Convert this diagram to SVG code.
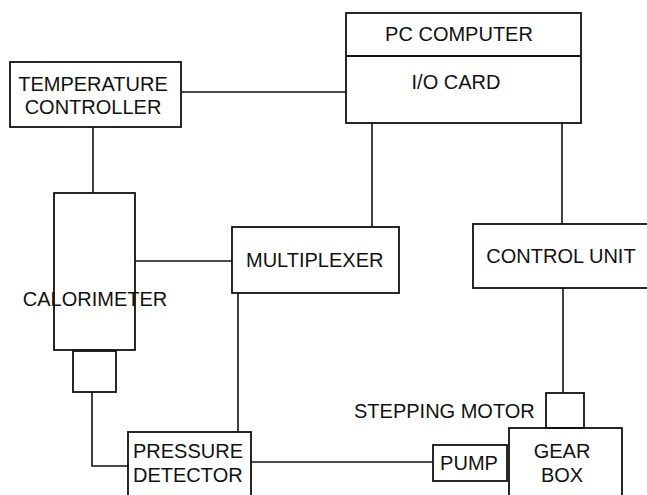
<svg xmlns="http://www.w3.org/2000/svg" width="647" height="495" viewBox="0 0 647 495">
<style>
.b{fill:none;stroke:#111;stroke-width:1.8}
.c{fill:none;stroke:#111;stroke-width:1.6}
text{font-family:"Liberation Sans",Arial,sans-serif;font-size:20px;fill:#111}
.m{text-anchor:middle}
</style>
<rect width="647" height="495" fill="#fff"/>
<g id="connectors">
<path class="c" d="M181 92H346"/>
<path class="c" d="M93 127V193"/>
<path class="c" d="M372 123V227"/>
<path class="c" d="M562 123V224"/>
<path class="c" d="M135 261H232"/>
<path class="c" d="M238 293V432"/>
<path class="c" d="M92 392V466H128"/>
<path class="c" d="M251 462H433"/>
<path class="c" d="M563 288V393"/>
</g>
<g id="pc">
<rect class="b" x="346" y="13" width="235" height="110"/>
<path class="b" d="M346 56H581"/>
<text class="m" x="459" y="41">PC COMPUTER</text>
<text class="m" x="456" y="89">I/O CARD</text>
</g>
<g id="temp">
<rect class="b" x="10" y="62" width="171" height="65"/>
<text class="m" x="93" y="91">TEMPERATURE</text>
<text class="m" x="93" y="114">CONTROLLER</text>
</g>
<g id="calorimeter">
<rect class="b" x="54" y="193" width="81" height="157"/>
<rect class="b" x="73" y="351" width="43" height="41"/>
<text class="m" x="95" y="306">CALORIMETER</text>
</g>
<g id="multiplexer">
<rect class="b" x="232" y="227" width="167" height="66"/>
<text x="246" y="267">MULTIPLEXER</text>
</g>
<g id="control">
<rect class="b" x="473" y="224" width="180" height="64"/>
<text class="m" x="561" y="263">CONTROL UNIT</text>
</g>
<g id="stepping">
<rect class="b" x="546" y="393" width="38" height="35"/>
<text x="354" y="418">STEPPING MOTOR</text>
</g>
<g id="pressure">
<rect class="b" x="128" y="432" width="123" height="70"/>
<text x="133" y="458">PRESSURE</text>
<text x="133" y="482">DETECTOR</text>
</g>
<g id="pump">
<rect class="b" x="433" y="445" width="74" height="36"/>
<text class="m" x="469" y="470">PUMP</text>
</g>
<g id="gearbox">
<rect class="b" x="509" y="428" width="113" height="74"/>
<text class="m" x="562" y="458">GEAR</text>
<text class="m" x="562" y="482">BOX</text>
</g>
</svg>
